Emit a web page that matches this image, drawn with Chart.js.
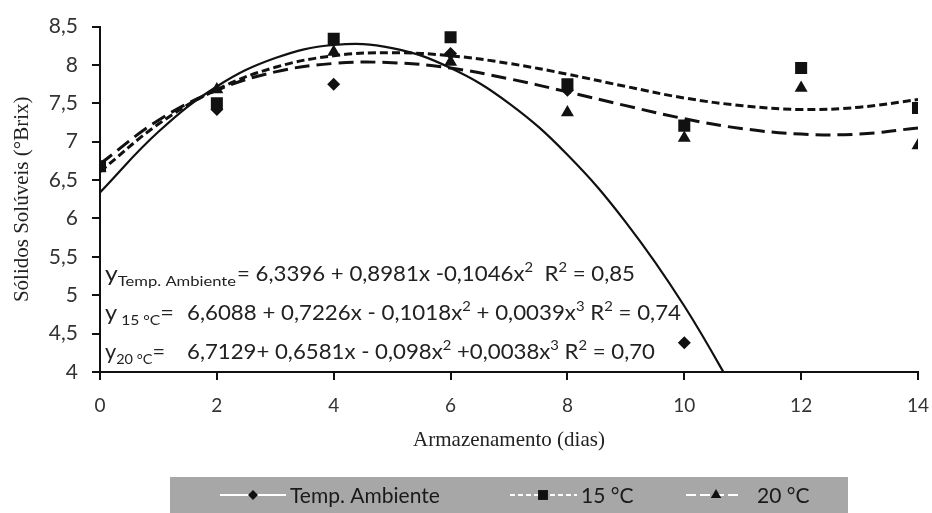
<!DOCTYPE html>
<html>
<head>
<meta charset="utf-8">
<script src="https://cdn.jsdelivr.net/npm/chart.js@4.4.1/dist/chart.umd.min.js"></script>
<style>
  html, body { margin: 0; padding: 0; background: #fff; }
  #wrap { width: 932px; height: 513px; }
</style>
</head>
<body>
<div id="wrap"><canvas id="chart"></canvas></div>
<script>
// observed points (°Brix) per storage day
const days = [0, 2, 4, 6, 8, 10, 12, 14];
const ambientDays = [0, 2, 4, 6, 8, 10];
const ambientValues = [6.68, 7.42, 7.75, 8.15, 7.67, 4.38];
const values15 = [6.68, 7.50, 8.34, 8.36, 7.75, 7.21, 7.96, 7.44];
const values20 = [6.66, 7.68, 8.17, 8.04, 7.38, 7.05, 7.70, 6.95];

// trend lines, one value per day
const fitDays = [0, 1, 2, 3, 4, 5, 6, 7, 8, 9, 10, 11, 12, 13, 14];
const fitAmbient = [6.34, 7.13, 7.72, 8.09, 8.26, 8.22, 7.96, 7.50, 6.83, 5.95, 4.86, 3.56];
const fit15 = [6.61, 7.23, 7.68, 7.97, 8.12, 8.16, 8.12, 8.02, 7.88, 7.72, 7.57, 7.47, 7.42, 7.45, 7.55];
const fit20 = [6.71, 7.28, 7.67, 7.91, 8.02, 8.03, 7.96, 7.82, 7.65, 7.47, 7.30, 7.17, 7.10, 7.10, 7.18];

const seriesLabels = ['Temp. Ambiente', '15 °C', '20 °C'];
const xTickLabels = ['0', '2', '4', '6', '8', '10', '12', '14'];
const yTickLabels = ['4', '4,5', '5', '5,5', '6', '6,5', '7', '7,5', '8', '8,5'];

const equations = [
  { head: [['y', 'n'], ['Temp. Ambiente', 'sub']], headEnd: 236,
    body: [['= 6,3396 + 0,8981x -0,1046x', 'n'], ['2', 'sup'], ['  R', 'n'], ['2', 'sup'], [' = 0,85', 'n']],
    bodyX: 237, endX: 635, dy: -91 },
  { head: [['y', 'n'], [' 15 °C', 'sub'], ['=', 'n']], headEnd: 174,
    body: [['6,6088 + 0,7226x - 0,1018x', 'n'], ['2', 'sup'], [' + 0,0039x', 'n'], ['3', 'sup'], [' R', 'n'], ['2', 'sup'], [' = 0,74', 'n']],
    bodyX: 187, endX: 681, dy: -52 },
  { head: [['y', 'n'], ['20 °C', 'sub'], ['=', 'n']], headEnd: 165,
    body: [['6,7129+ 0,6581x - 0,098x', 'n'], ['2', 'sup'], [' +0,0038x', 'n'], ['3', 'sup'], [' R', 'n'], ['2', 'sup'], [' = 0,70', 'n']],
    bodyX: 187, endX: 655, dy: -13 }
];

const INK = '#111';
const FONT = 'Lato, "Open Sans", sans-serif';
const styles = [
  { dash: [], width: 2.2, point: 'rectRot', radius: 6.5 },
  { dash: [8, 4], width: 3, point: 'rect', radius: 8.5 },
  { dash: [15, 7], width: 3, point: 'triangle', radius: 7.5 }
];

const toXY = (xs, ys) => ys.map((y, i) => ({ x: xs[i], y: y }));

const fitSets = [fitAmbient, fit15, fit20].map((vals, i) => ({
  label: seriesLabels[i] + ' fit',
  data: toXY(fitDays, vals),
  showLine: true,
  borderColor: INK,
  borderWidth: styles[i].width,
  borderDash: styles[i].dash,
  pointRadius: 0,
  tension: 0.4,
  fill: false,
  order: 10 + i
}));

const pointSets = [[ambientDays, ambientValues], [days, values15], [days, values20]].map((d, i) => ({
  label: seriesLabels[i],
  data: toXY(d[0], d[1]),
  showLine: false,
  pointStyle: styles[i].point,
  pointRadius: styles[i].radius,
  pointBackgroundColor: INK,
  pointBorderWidth: 0,
  order: i
}));

function segFont(kind) {
  return kind === 'n' ? '21px ' + FONT : '14px ' + FONT;
}
function segShift(kind) {
  return kind === 'sub' ? 5 : kind === 'sup' ? -9 : 0;
}
function drawParts(ctx, parts, x, base) {
  parts.forEach(([txt, kind]) => {
    ctx.font = segFont(kind);
    ctx.fillText(txt, x, base + segShift(kind));
    x += ctx.measureText(txt).width;
  });
  return x;
}
function partsWidth(ctx, parts) {
  let w = 0;
  parts.forEach(([txt, kind]) => { ctx.font = segFont(kind); w += ctx.measureText(txt).width; });
  return w;
}
// draws parts squeezed or stretched to span [x0, x1]
function drawFitted(ctx, parts, x0, x1, base) {
  const k = (x1 - x0) / partsWidth(ctx, parts);
  ctx.save();
  ctx.translate(x0, 0);
  ctx.scale(k, 1);
  drawParts(ctx, parts, 0, base);
  ctx.restore();
}

const equationPlugin = {
  id: 'equations',
  afterDatasetsDraw(chart) {
    const { ctx, chartArea } = chart;
    ctx.save();
    ctx.fillStyle = '#222';
    ctx.textBaseline = 'alphabetic';
    equations.forEach((eq) => {
      const base = chartArea.bottom + eq.dy;
      drawFitted(ctx, eq.head, chartArea.left + 5, eq.headEnd, base);
      drawFitted(ctx, eq.body, eq.bodyX, eq.endX, base);
    });
    ctx.restore();
  }
};

const legendPlugin = {
  id: 'grayLegend',
  afterDraw(chart) {
    const { ctx } = chart;
    const items = [
      { x1: 220, x2: 286, mx: 253, tx: 290, r: 5 },
      { x1: 510, x2: 577, mx: 543, tx: 581, r: 7 },
      { x1: 686, x2: 742, mx: 716, tx: 757, r: 6 }
    ];
    ctx.save();
    ctx.fillStyle = '#a7a7a7';
    ctx.fillRect(170, 477, 678, 36);
    const cy = 495;
    items.forEach((it, i) => {
      ctx.strokeStyle = '#fff';
      ctx.lineWidth = 2;
      ctx.setLineDash(i === 0 ? [] : i === 1 ? [5, 3] : [10, 4]);
      ctx.beginPath();
      ctx.moveTo(it.x1, cy);
      ctx.lineTo(it.x2, cy);
      ctx.stroke();
      ctx.setLineDash([]);
      ctx.fillStyle = INK;
      Chart.helpers.drawPoint(ctx, { pointStyle: styles[i].point, radius: it.r, borderWidth: 0, rotation: 0 }, it.mx, cy);
      ctx.fillStyle = '#1a1a1a';
      ctx.font = '21px ' + FONT;
      ctx.textBaseline = 'middle';
      ctx.fillText(seriesLabels[i], it.tx, cy + 1);
    });
    ctx.restore();
  }
};

new Chart(document.getElementById('chart'), {
  type: 'scatter',
  data: { datasets: pointSets.concat(fitSets) },
  options: {
    responsive: true,
    maintainAspectRatio: false,
    animation: false,
    layout: { padding: { left: 0, right: 14, top: 24, bottom: 60 } },
    plugins: { legend: { display: false }, tooltip: { enabled: false } },
    scales: {
      x: {
        type: 'linear',
        min: 0, max: 14,
        afterFit: (s) => { s.height = 81; s.paddingRight = 0; s.paddingLeft = 0; },
        ticks: {
          stepSize: 2,
          color: '#333',
          padding: 14,
          font: { family: FONT, size: 19 },
          callback: (v, i) => xTickLabels[i]
        },
        grid: { drawOnChartArea: false, drawTicks: true, tickLength: 8, color: INK, lineWidth: 2 },
        border: { color: INK, width: 2 },
        title: {
          display: true,
          text: 'Armazenamento (dias)',
          color: '#222',
          padding: 0,
          font: { family: '"Liberation Serif", serif', size: 21 }
        }
      },
      y: {
        min: 4, max: 8.5,
        afterFit: (s) => { s.width = 100; },
        ticks: {
          stepSize: 0.5,
          color: '#333',
          padding: 14,
          font: { family: FONT, size: 21 },
          callback: (v, i) => yTickLabels[i]
        },
        grid: { drawOnChartArea: false, drawTicks: true, tickLength: 8, color: INK, lineWidth: 2 },
        border: { color: INK, width: 2 },
        title: {
          display: true,
          text: 'Sólidos Solúveis (°Brix)',
          color: '#222',
          padding: { top: 10, bottom: 0 },
          font: { family: '"Liberation Serif", serif', size: 21 }
        }
      }
    }
  },
  plugins: [equationPlugin, legendPlugin]
});
</script>
</body>
</html>
